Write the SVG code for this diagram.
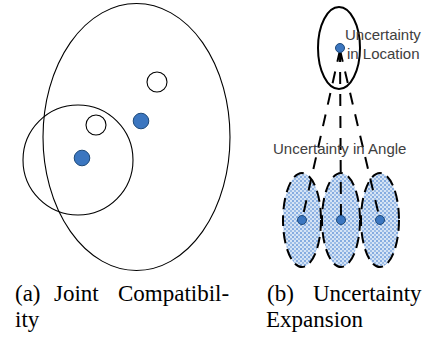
<svg xmlns="http://www.w3.org/2000/svg" width="432" height="340" viewBox="0 0 432 340">
<defs>
<pattern id="dither" width="4" height="4" patternUnits="userSpaceOnUse">
<rect width="4" height="4" fill="#d6e4f5"/>
<rect x="0" y="0" width="2" height="2" fill="#86ace0"/>
<rect x="2" y="2" width="2" height="2" fill="#9dbde6"/>
</pattern>
</defs>
<style>
.thin{fill:none;stroke:#000;stroke-width:1.1}
.open{fill:#fff;stroke:#000;stroke-width:1.1}
.dot{fill:#3b76c0;stroke:#1e4a7a;stroke-width:1}
.cov{fill:url(#dither);stroke:#000;stroke-width:2;stroke-dasharray:11 6}
.conn{fill:none;stroke:#000;stroke-width:2;stroke-dasharray:12 10}
.lbl{font-family:"Liberation Sans",Arial,sans-serif;font-size:15px;fill:#404040}
.cap{font-family:"Liberation Serif","Times New Roman",serif;font-size:23px;fill:#000}
</style>
<g id="panel-a">
<g id="big-ellipse"><ellipse class="thin" cx="136.5" cy="137" rx="93.5" ry="133.5"/></g>
<g id="small-circle"><circle class="thin" cx="78" cy="160" r="55"/></g>
<g id="open1"><circle class="open" cx="157" cy="82" r="10"/></g>
<g id="open2"><circle class="open" cx="96" cy="125" r="10"/></g>
<g id="dot1"><circle class="dot" cx="141" cy="121" r="7.8"/></g>
<g id="dot2"><circle class="dot" cx="82" cy="158" r="7.8"/></g>
</g>
<g id="panel-b">
<g id="loc-ellipse"><ellipse fill="none" stroke="#000" stroke-width="2" cx="339" cy="48" rx="21" ry="41"/></g>
<g id="cov-left"><ellipse class="cov" cx="302" cy="220" rx="19" ry="47"/></g>
<g id="cov-mid"><ellipse class="cov" cx="341" cy="220" rx="19" ry="47"/></g>
<g id="cov-right"><ellipse class="cov" cx="380" cy="220" rx="19" ry="47"/></g>
<g id="connectors">
<line class="conn" x1="340" y1="50" x2="302" y2="220"/>
<line class="conn" x1="340" y1="50" x2="341" y2="220"/>
<line class="conn" x1="340" y1="50" x2="380" y2="220"/>
</g>
<g id="top-dot"><circle class="dot" cx="340" cy="48" r="4.5"/></g>
<g id="dot-l"><circle class="dot" cx="302" cy="220" r="4.5"/></g>
<g id="dot-m"><circle class="dot" cx="341" cy="220" r="4.5"/></g>
<g id="dot-r"><circle class="dot" cx="380" cy="220" r="4.5"/></g>
<g id="label-loc">
<text class="lbl" x="345" y="40">Uncertainty</text>
<text class="lbl" x="347" y="59">in Location</text>
</g>
<g id="label-angle"><text class="lbl" x="273" y="154">Uncertainty in Angle</text></g>
</g>
<g id="captions">
<text class="cap" x="15" y="301">(a)</text>
<text class="cap" x="54" y="301">Joint</text>
<text class="cap" x="118" y="301">Compatibil-</text>
<text class="cap" x="15" y="327">ity</text>
<text class="cap" x="267" y="301">(b)</text>
<text class="cap" x="313" y="301">Uncertainty</text>
<text class="cap" x="266" y="327">Expansion</text>
</g>
</svg>
